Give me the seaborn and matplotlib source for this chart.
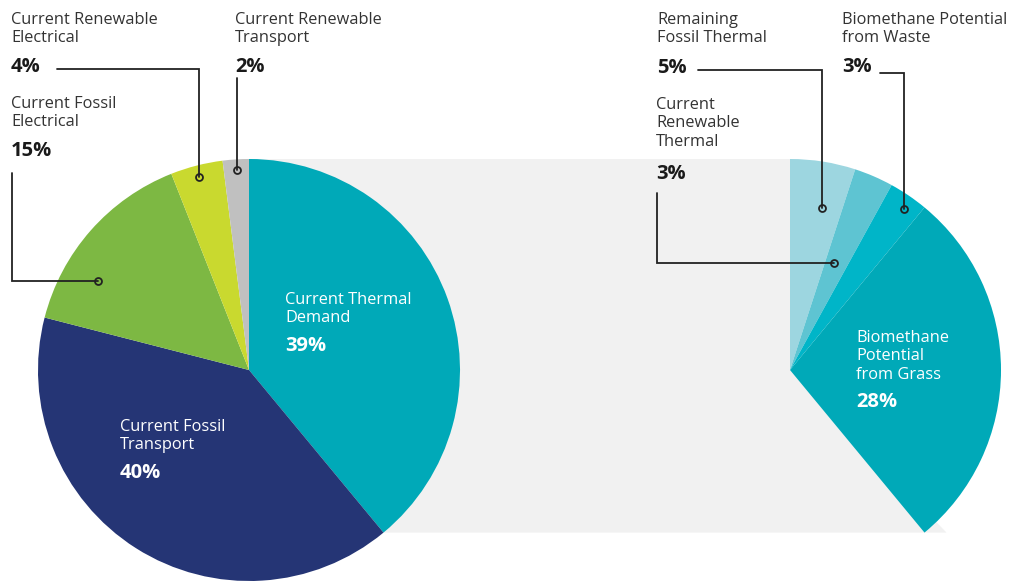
import numpy as np
import matplotlib.pyplot as plt
import seaborn as sns

# -----------------------------
# data
# -----------------------------
left_labels = ["Current Thermal\nDemand", "Current Fossil\nTransport", "Current Fossil\nElectrical",
               "Current Renewable\nElectrical", "Current Renewable\nTransport"]
left_values = [39, 40, 15, 4, 2]
left_colors = ["#00a9b8", "#253575", "#7db843", "#c9d92f", "#c0c0c0"]

right_labels = ["Remaining\nFossil Thermal", "Current\nRenewable\nThermal",
                "Biomethane Potential\nfrom Waste", "Biomethane\nPotential\nfrom Grass"]
right_values = [5, 3, 3, 28]
right_colors = ["#9dd6e0", "#5ec4d2", "#00b5c8", "#00a9b8"]

# -----------------------------
# layout (image pixel coords, y down)
# -----------------------------
W, H = 1013, 583
R = 211
c_left = (249, 370)
c_right = (790, 370)

sns.set_theme(style="white")
plt.rcParams['font.family'] = ['Open Sans', 'DejaVu Sans']

fig = plt.figure(figsize=(W / 100, H / 100), dpi=100)
ax = fig.add_axes([0, 0, 1, 1])

# y axis is inverted later, so start at -90 and go counterclock in data = clockwise on screen
total = sum(left_values)
thermal_frac = left_values[0] / total
end_ang = np.deg2rad(-90 + 360 * thermal_frac)

# grey connector band
top_y = c_left[1] - R
tip = (c_right[0] + R * np.cos(end_ang), c_right[1] + R * np.sin(end_ang))
band = plt.Polygon([(c_left[0], top_y), (c_right[0], top_y), c_right,
                    (tip[0] + 22, tip[1]), (c_left[0], tip[1])],
                   closed=True, facecolor="#f1f1f1", edgecolor="none", zorder=0)
ax.add_patch(band)

ax.pie(left_values, colors=left_colors, startangle=-90, counterclock=True,
       center=c_left, radius=R, wedgeprops=dict(linewidth=0), frame=True)

rest = total - sum(right_values)
ax.pie(right_values + [rest], colors=right_colors + ["none"], startangle=-90, counterclock=True,
       center=c_right, radius=R, wedgeprops=dict(linewidth=0), frame=True)

ax.set_xlim(0, W)
ax.set_ylim(H, 0)
ax.set_aspect("equal")
ax.axis("off")

# -----------------------------
# labels
# -----------------------------
name_kw = dict(fontsize=11.8, va="top", ha="left", linespacing=1.2)
pct_kw = dict(fontsize=14.5, fontweight="bold", va="center", ha="left")

# outside labels: (name, value, x, name top, pct center)
outside = [
    (left_labels[3], left_values[3], 11, 12, 67),
    (left_labels[4], left_values[4], 235, 12, 67),
    (left_labels[2], left_values[2], 11, 96, 151),
    (right_labels[0], right_values[0], 657, 12, 68),
    (right_labels[2], right_values[2], 842, 12, 67),
    (right_labels[1], right_values[1], 656, 97, 174),
]
for name, val, x, ty, py in outside:
    ax.text(x, ty, name, color="#333333", **name_kw)
    ax.text(x, py, f"{val}%", color="#1a1a1a", **pct_kw)

inside = [
    (left_labels[0], left_values[0], 285, 292, 346),
    (left_labels[1], left_values[1], 120, 419, 473),
    (right_labels[3], right_values[3], 856, 330, 402),
]
for name, val, x, ty, py in inside:
    ax.text(x, ty, name, color="white", **name_kw)
    ax.text(x, py, f"{val}%", color="white", **pct_kw)

# leader lines
leaders = [
    [(57, 69), (199, 69), (199, 177)],
    [(237, 78), (237, 170)],
    [(12, 173), (12, 281), (98, 281)],
    [(698, 70), (822, 70), (822, 208)],
    [(880, 73), (904, 73), (904, 209)],
    [(657, 193), (657, 263), (834, 263)],
]
for pts in leaders:
    xs, ys = zip(*pts)
    ax.plot(xs, ys, color="#222222", lw=1.3, solid_joinstyle="miter", zorder=5)
    ax.plot(xs[-1], ys[-1], "o", ms=5, mfc="none", mec="#222222", mew=1.3, zorder=6)

fig.savefig("out.png", dpi=100, facecolor="white")
